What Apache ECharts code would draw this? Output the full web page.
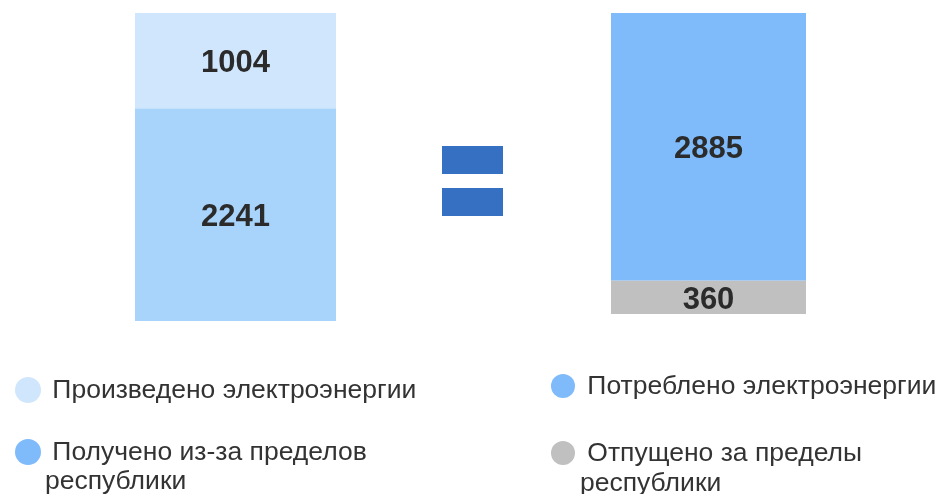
<!DOCTYPE html>
<html>
<head>
<meta charset="utf-8">
<script src="https://cdn.jsdelivr.net/npm/echarts@6/dist/echarts.min.js"></script>
<style>
  html, body { margin: 0; padding: 0; background: #fff; }
  #main { width: 941px; height: 494px; }
</style>
</head>
<body>
<div id="main"></div>
<script>
// данные
var leftNames = ['Получено из-за пределов\nреспублики', 'Произведено электроэнергии'];
var leftValues = [2241, 1004];
var leftColors = ['#a8d4fc', '#d0e6fc'];

var rightNames = ['Отпущено за пределы\nреспублики', 'Потреблено электроэнергии'];
var rightValues = [360, 2885];
var rightColors = ['#c0c0c0', '#7fbbfb'];

var total = leftValues[0] + leftValues[1];
var FONT = 'Liberation Sans';

var chart = echarts.init(document.getElementById('main'));

function barSeries(name, value, color, idx) {
  return {
    name: name,
    type: 'bar',
    stack: 'st' + idx,
    xAxisIndex: idx,
    yAxisIndex: idx,
    barWidth: '100%',
    data: [value],
    itemStyle: { color: color },
    label: {
      show: true,
      position: 'inside',
      offset: [0, 3],
      color: '#2b2b2b',
      fontSize: 31,
      fontWeight: 'bold',
      fontFamily: FONT
    },
    emphasis: { disabled: true }
  };
}

// легенда (рисуем вручную)
function legendItem(cx, cy, r, color, text, tx, lineH) {
  return [
    { type: 'circle', shape: { cx: cx, cy: cy, r: r }, style: { fill: color } },
    {
      type: 'text', x: tx, y: cy - lineH / 2 + 1,
      style: {
        text: ' ' + text, fill: '#333', fontSize: 26.5, lineHeight: lineH,
        verticalAlign: 'top', fontFamily: FONT
      }
    }
  ];
}

var option = {
  animation: false,
  grid: [
    { left: 135, top: 13, width: 201, height: 308 },
    { left: 611, top: 13, width: 195, height: 301 }
  ],
  xAxis: [
    { type: 'category', gridIndex: 0, data: [''], show: false },
    { type: 'category', gridIndex: 1, data: [''], show: false }
  ],
  yAxis: [
    { type: 'value', gridIndex: 0, min: 0, max: total, show: false },
    { type: 'value', gridIndex: 1, min: 0, max: total, show: false }
  ],
  series: [
    barSeries(leftNames[0], leftValues[0], leftColors[0], 0),
    barSeries(leftNames[1], leftValues[1], leftColors[1], 0),
    barSeries(rightNames[0], rightValues[0], rightColors[0], 1),
    barSeries(rightNames[1], rightValues[1], rightColors[1], 1)
  ],
  graphic: [
    // знак "="
    { type: 'rect', shape: { x: 442, y: 146, width: 61, height: 28 }, style: { fill: '#3570c3' } },
    { type: 'rect', shape: { x: 442, y: 188, width: 61, height: 28 }, style: { fill: '#3570c3' } }
  ]
    .concat(legendItem(28, 390, 13, leftColors[1], leftNames[1], 45, 30))
    .concat(legendItem(28, 452, 13, rightColors[1], leftNames[0], 45, 29))
    .concat(legendItem(563, 386, 12, rightColors[1], rightNames[1], 580, 30))
    .concat(legendItem(563, 453, 12, rightColors[0], rightNames[0], 580, 30))
};

chart.setOption(option);
</script>
</body>
</html>
